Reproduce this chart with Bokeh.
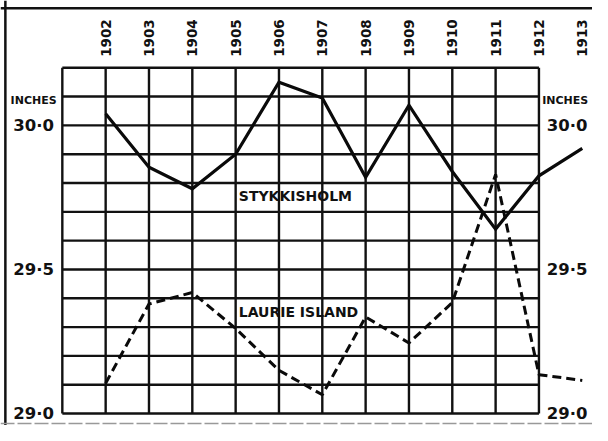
from bokeh.plotting import figure
from bokeh.models import Range1d, Span
from bokeh.core.properties import value
from bokeh.embed import file_html
from bokeh.resources import INLINE
import math

# ---- data ----
years = [1902, 1903, 1904, 1905, 1906, 1907, 1908, 1909, 1910, 1911, 1912, 1913]
year_labels = [str(y) for y in years]
stykkisholm = [30.04, 29.855, 29.78, 29.90, 30.15, 30.095, 29.82, 30.07, 29.84, 29.64, 29.825, 29.92]
laurie_island = [29.105, 29.38, 29.42, 29.295, 29.15, 29.065, 29.335, 29.245, 29.385, 29.83, 29.135, 29.115]
y_ticks = [30.0, 29.5, 29.0]
y_tick_labels = ["30·0", "29·5", "29·0"]
grid_x = [1901, 1902, 1903, 1904, 1905, 1906, 1907, 1908, 1909, 1910, 1911, 1912]
grid_y = [29.0, 29.1, 29.2, 29.3, 29.4, 29.5, 29.6, 29.7, 29.8, 29.9, 30.0, 30.1, 30.2]

W, H = 592, 425
X0, X1 = 1899.573, 1913.236
Y0, Y1 = 28.9585, 30.4334

p = figure(width=W, height=H, x_range=Range1d(X0, X1), y_range=Range1d(Y0, Y1),
           x_axis_type=None, y_axis_type=None, toolbar_location=None,
           output_backend="svg", min_border=0)
p.outline_line_color = None
p.grid.visible = False
p.background_fill_color = "white"
p.border_fill_color = "white"

# grid
gx0, gx1 = grid_x[0], grid_x[-1]
gy0, gy1 = grid_y[0], grid_y[-1]
p.multi_line(xs=[[x, x] for x in grid_x], ys=[[gy0, gy1] for _ in grid_x],
             line_color="#111111", line_width=2.4)
p.multi_line(xs=[[gx0, gx1] for _ in grid_y], ys=[[y, y] for y in grid_y],
             line_color="#111111", line_width=2.4)

# outer frame (left and top dark, bottom faint)
px_x = (X1 - X0) / 608.0
px_y = (Y1 - Y0) / 441.0
p.add_layout(Span(location=X0 + 5 * px_x, dimension="height", line_color="#111111", line_width=2.5))
p.add_layout(Span(location=Y1 - 8 * px_y, dimension="width", line_color="#111111", line_width=2.5))
p.add_layout(Span(location=Y1 - 439 * px_y, dimension="width", line_color="#999999",
                  line_width=1.5, line_dash="14 3"))

# data lines
p.line(years, stykkisholm, line_color="#0a0a0a", line_width=3.2, line_join="miter")
p.line(years, laurie_island, line_color="#0a0a0a", line_width=3.0, line_dash="9 5")

bold = value("DejaVu Sans")

# year labels (rotated)
p.text(x=years, y=[30.303] * len(years), text=year_labels, angle=math.pi / 2,
       text_align="center", text_baseline="middle", text_font=bold,
       text_font_style="bold", text_font_size="13.5px", text_color="#111111")

# y labels both sides
left_x = 1900.337
right_x = 1912.652
p.text(x=[left_x] * 3, y=y_ticks, text=y_tick_labels, text_align="center",
       text_baseline="middle", text_font=bold, text_font_style="bold",
       text_font_size="16.5px", text_color="#111111")
p.text(x=[right_x] * 3, y=y_ticks, text=y_tick_labels, text_align="center",
       text_baseline="middle", text_font=bold, text_font_style="bold",
       text_font_size="16.5px", text_color="#111111")
p.text(x=[left_x, 1912.607], y=[30.0856, 30.0856], text=["INCHES", "INCHES"],
       text_align="center", text_baseline="middle", text_font=bold,
       text_font_style="bold", text_font_size="11px", text_color="#111111")

# series labels
p.text(x=[1906.38, 1906.45], y=[29.755, 29.353], text=["STYKKISHOLM", "LAURIE ISLAND"],
       text_align="center", text_baseline="middle", text_font=bold,
       text_font_style="bold", text_font_size="14px", text_color="#111111")

open("out.html", "w").write(file_html(p, INLINE))
